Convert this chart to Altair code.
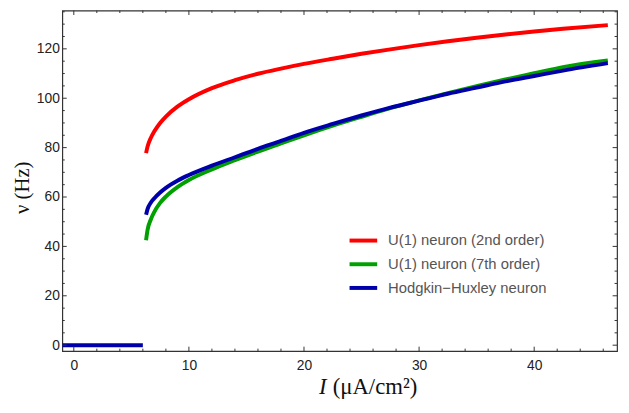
import altair as alt
import pandas as pd

# ---- data ----
I_CURVE = [6.28, 6.4, 6.7, 7.0, 7.5, 8.0, 9.0, 10, 12, 14, 16, 18, 20, 22.5, 25, 27.5,
           30, 32.5, 35, 37.5, 40, 42.5, 46.4]
NU_U1_2ND = [77.8, 80.3, 84.0, 86.6, 90.0, 92.6, 96.6, 99.6, 104.1, 107.3, 109.9, 112.0,
             113.9, 116.0, 118.0, 119.8, 121.5, 123.1, 124.5, 125.8, 127.0, 128.1, 129.6]
NU_U1_7TH = [42.5, 46.5, 51.0, 54.0, 57.6, 60.2, 64.0, 66.9, 71.2, 74.9, 78.4, 81.7,
             85.0, 88.9, 92.5, 96.0, 99.1, 102.1, 104.9, 107.6, 110.1, 112.6, 115.3]
NU_HH = [52.8, 55.0, 57.8, 59.5, 61.8, 63.7, 66.6, 68.9, 72.7, 76.1, 79.5, 82.7,
         86.0, 89.6, 93.0, 96.2, 99.0, 101.8, 104.3, 106.8, 109.0, 111.2, 114.2]
I_REST = [-1.0, 6.0]
NU_HH_REST = [0.0, 0.0]

SERIES = ["U(1) neuron (2nd order)", "U(1) neuron (7th order)", "Hodgkin\u2212Huxley neuron"]
COLORS = ["#ff0000", "#00a000", "#0000aa"]

X_MAJOR = [0, 10, 20, 30, 40]
Y_MAJOR = [0, 20, 40, 60, 80, 100, 120]
X_MINOR = [v for v in range(0, 47, 2) if v % 10 != 0]
Y_MINOR = [v for v in range(0, 136, 5) if v % 20 != 0]

X_TITLE_VAR = "I"
X_TITLE_UNIT = "(\u03bcA/cm\u00b2)"
Y_TITLE = "\u03bd (Hz)"

rows = []
for i, v in zip(I_CURVE, NU_U1_2ND):
    rows.append({"I": i, "v": v, "series": SERIES[0], "seg": "a"})
for i, v in zip(I_CURVE, NU_U1_7TH):
    rows.append({"I": i, "v": v, "series": SERIES[1], "seg": "b"})
for i, v in zip(I_REST, NU_HH_REST):
    rows.append({"I": i, "v": v, "series": SERIES[2], "seg": "c0"})
for i, v in zip(I_CURVE, NU_HH):
    rows.append({"I": i, "v": v, "series": SERIES[2], "seg": "c1"})
df = pd.DataFrame(rows)

W, H = 562, 345
xs = alt.Scale(domain=[-1.0, 47.2], nice=False, zero=False)
ys = alt.Scale(domain=[-2.4, 135.5], nice=False, zero=False)

FRAME = "#333333"

main = alt.Chart(df).mark_line(strokeWidth=4, clip=True, interpolate="monotone").encode(
    x=alt.X("I:Q", scale=xs, axis=alt.Axis(
        orient="bottom", values=X_MAJOR, ticks=False, tickSize=0, domain=False, grid=False,
        labelFontSize=14, labelFont="Liberation Sans", labelColor="#222222", labelPadding=8,
        title=None)),
    y=alt.Y("v:Q", scale=ys, axis=alt.Axis(
        orient="left", values=Y_MAJOR, ticks=False, tickSize=0, domain=False, grid=False,
        labelFontSize=14, labelFont="Liberation Sans", labelColor="#222222", labelPadding=3,
        title=Y_TITLE, titleFont="Liberation Serif", titleFontSize=21,
        titleFontWeight="normal", titleColor="#111111", titleAngle=270, titleX=-34, titleY=179,
        titleBaseline="alphabetic", titleAlign="center")),
    color=alt.Color("series:N", scale=alt.Scale(domain=SERIES, range=COLORS), legend=alt.Legend(
        orient="none", legendX=289, legendY=217, title=None, symbolType="stroke",
        symbolSize=784, symbolStrokeWidth=4, labelFontSize=15, labelFont="Liberation Sans",
        labelColor="#555555", labelOffset=9, rowPadding=-2, padding=0, labelLimit=400)),
    detail="seg:N",
)


def xticks(values, y0, y1):
    return alt.Chart(pd.DataFrame({"t": values})).mark_rule(
        color=FRAME, strokeWidth=1).encode(
        x=alt.X("t:Q", scale=xs, axis=None), y=alt.value(y0), y2=alt.value(y1))


def yticks(values, x0, x1):
    return alt.Chart(pd.DataFrame({"t": values})).mark_rule(
        color=FRAME, strokeWidth=1).encode(
        y=alt.Y("t:Q", scale=ys, axis=None), x=alt.value(x0), x2=alt.value(x1))


MAJ, MIN = 4.5, 2.5
tick_layers = [
    xticks(X_MAJOR, H, H - MAJ), xticks(X_MINOR, H, H - MIN),
    xticks(X_MAJOR, 0, MAJ), xticks(X_MINOR, 0, MIN),
    yticks(Y_MAJOR, 0, MAJ), yticks(Y_MINOR, 0, MIN),
    yticks(Y_MAJOR, W, W - MAJ), yticks(Y_MINOR, W, W - MIN),
]

title_df = pd.DataFrame({"a": [X_TITLE_VAR], "b": [X_TITLE_UNIT]})
t_var = alt.Chart(title_df).mark_text(
    font="Liberation Serif", fontSize=23, fontStyle="italic", align="left",
    baseline="alphabetic", color="#111111").encode(
    text="a:N", x=alt.value(260), y=alt.value(388))
t_unit = alt.Chart(title_df).mark_text(
    font="Liberation Serif", fontSize=23, align="left",
    baseline="alphabetic", color="#111111").encode(
    text="b:N", x=alt.value(274), y=alt.value(388))

chart = alt.layer(main, *tick_layers, t_var, t_unit).resolve_axis(
    x="independent", y="independent").properties(
    width=W, height=H,
    padding={"left": 55, "top": 0, "right": 4, "bottom": 52},
    autosize=alt.AutoSizeParams(type="none"),
).configure_view(stroke=FRAME, strokeWidth=1.2)

chart.save("out.html", embed_options={"renderer": "svg", "actions": False})
